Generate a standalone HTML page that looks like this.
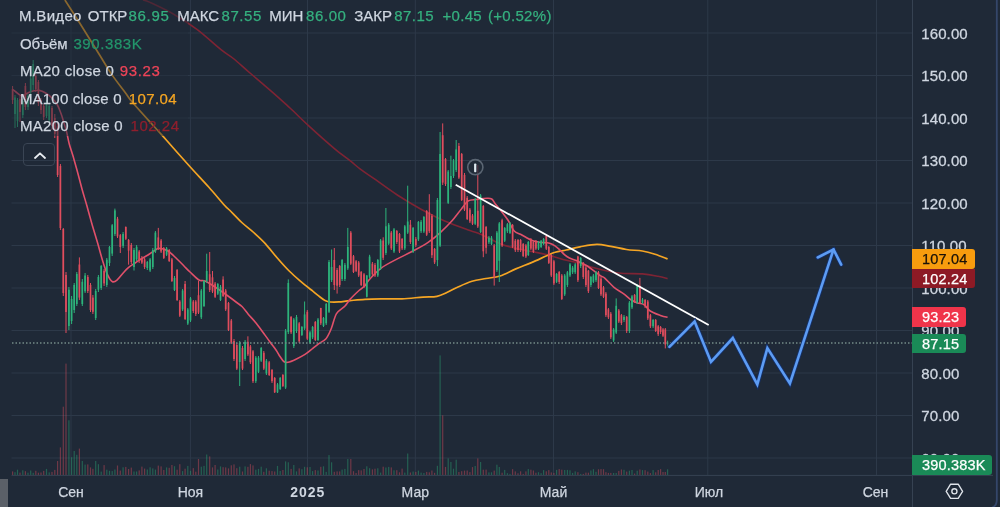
<!DOCTYPE html>
<html><head><meta charset="utf-8"><style>
html,body{margin:0;padding:0;}
span,div{-webkit-text-stroke:0.25px currentColor;}
body{filter:blur(0.35px);width:1000px;height:507px;overflow:hidden;position:relative;background:#1f2937;font-family:"Liberation Sans","Noto Sans CJK SC",sans-serif;}
.lg{position:absolute;font-size:15px;line-height:20px;white-space:nowrap;color:#cfd6e0;}
.gv{color:#35b07f;}
.pl{position:absolute;left:921.3px;font-size:15px;line-height:18px;color:#cfd6e0;letter-spacing:0.1px;-webkit-text-stroke:0.3px #cfd6e0;}
.tag{position:absolute;left:912px;width:54px;font-size:14.5px;line-height:20px;text-align:left;padding-left:10px;box-sizing:border-box;border-radius:0 3px 3px 0;letter-spacing:0.2px;}
.tl{position:absolute;top:483px;font-size:14px;line-height:18px;color:#cfd6e0;transform:translateX(-50%);}
.btn{position:absolute;left:23px;top:142.5px;width:32px;height:23px;box-sizing:border-box;border:1px solid #3a4554;border-radius:4px;}
</style></head><body>
<svg width="1000" height="507" viewBox="0 0 1000 507" style="position:absolute;left:0;top:0"><g stroke="#2d3949" stroke-width="1"><line x1="11.5" y1="33.0" x2="912" y2="33.0"/><line x1="11.5" y1="75.5" x2="912" y2="75.5"/><line x1="11.5" y1="118.0" x2="912" y2="118.0"/><line x1="11.5" y1="160.5" x2="912" y2="160.5"/><line x1="11.5" y1="203.0" x2="912" y2="203.0"/><line x1="11.5" y1="245.5" x2="912" y2="245.5"/><line x1="11.5" y1="288.0" x2="912" y2="288.0"/><line x1="11.5" y1="330.5" x2="912" y2="330.5"/><line x1="11.5" y1="373.0" x2="912" y2="373.0"/><line x1="11.5" y1="415.5" x2="912" y2="415.5"/><line x1="11.5" y1="458.0" x2="912" y2="458.0"/><line x1="71" y1="0" x2="71" y2="475"/><line x1="190.4" y1="0" x2="190.4" y2="475"/><line x1="307.5" y1="0" x2="307.5" y2="475"/><line x1="415.3" y1="0" x2="415.3" y2="475"/><line x1="553.5" y1="0" x2="553.5" y2="475"/><line x1="707.8" y1="0" x2="707.8" y2="475"/><line x1="876.5" y1="0" x2="876.5" y2="475"/></g><rect x="12.00" y="471.4" width="1.2" height="3.6" fill="rgba(229,80,95,0.4)"/><rect x="14.40" y="472.2" width="1.2" height="2.8" fill="rgba(45,179,123,0.4)"/><rect x="16.90" y="469.7" width="1.2" height="5.3" fill="rgba(45,179,123,0.4)"/><rect x="19.40" y="472.6" width="1.2" height="2.4" fill="rgba(229,80,95,0.4)"/><rect x="22.20" y="470.3" width="1.2" height="4.7" fill="rgba(45,179,123,0.4)"/><rect x="24.80" y="471.2" width="1.2" height="3.8" fill="rgba(229,80,95,0.4)"/><rect x="27.40" y="472.7" width="1.2" height="2.3" fill="rgba(45,179,123,0.4)"/><rect x="30.10" y="470.5" width="1.2" height="4.5" fill="rgba(45,179,123,0.4)"/><rect x="32.60" y="472.8" width="1.2" height="2.2" fill="rgba(45,179,123,0.4)"/><rect x="35.20" y="470.8" width="1.2" height="4.2" fill="rgba(229,80,95,0.4)"/><rect x="37.80" y="472.7" width="1.2" height="2.3" fill="rgba(229,80,95,0.4)"/><rect x="40.40" y="472.5" width="1.2" height="2.5" fill="rgba(229,80,95,0.4)"/><rect x="43.10" y="470.9" width="1.2" height="4.1" fill="rgba(229,80,95,0.4)"/><rect x="45.90" y="468.9" width="1.2" height="6.1" fill="rgba(45,179,123,0.4)"/><rect x="48.60" y="472.4" width="1.2" height="2.6" fill="rgba(45,179,123,0.4)"/><rect x="51.40" y="471.9" width="1.2" height="3.1" fill="rgba(229,80,95,0.4)"/><rect x="54.20" y="469.9" width="1.2" height="5.1" fill="rgba(229,80,95,0.4)"/><rect x="57.00" y="461.0" width="1.2" height="14.0" fill="rgba(229,80,95,0.4)"/><rect x="59.80" y="447.4" width="1.2" height="27.6" fill="rgba(229,80,95,0.4)"/><rect x="62.70" y="406.7" width="1.2" height="68.3" fill="rgba(229,80,95,0.4)"/><rect x="65.40" y="363.6" width="1.2" height="111.4" fill="rgba(229,80,95,0.4)"/><rect x="68.30" y="420.3" width="1.2" height="54.7" fill="rgba(45,179,123,0.4)"/><rect x="71.00" y="457.2" width="1.2" height="17.8" fill="rgba(45,179,123,0.4)"/><rect x="73.60" y="451.0" width="1.2" height="24.0" fill="rgba(45,179,123,0.4)"/><rect x="76.20" y="454.8" width="1.2" height="20.2" fill="rgba(45,179,123,0.4)"/><rect x="78.80" y="448.6" width="1.2" height="26.4" fill="rgba(229,80,95,0.4)"/><rect x="81.70" y="461.0" width="1.2" height="14.0" fill="rgba(45,179,123,0.4)"/><rect x="84.50" y="464.6" width="1.2" height="10.4" fill="rgba(45,179,123,0.4)"/><rect x="87.20" y="464.4" width="1.2" height="10.6" fill="rgba(229,80,95,0.4)"/><rect x="89.90" y="467.4" width="1.2" height="7.6" fill="rgba(229,80,95,0.4)"/><rect x="92.30" y="468.8" width="1.2" height="6.2" fill="rgba(229,80,95,0.4)"/><rect x="95.10" y="461.0" width="1.2" height="14.0" fill="rgba(45,179,123,0.4)"/><rect x="97.80" y="464.2" width="1.2" height="10.8" fill="rgba(45,179,123,0.4)"/><rect x="100.60" y="471.6" width="1.2" height="3.4" fill="rgba(45,179,123,0.4)"/><rect x="103.50" y="465.1" width="1.2" height="9.9" fill="rgba(229,80,95,0.4)"/><rect x="106.20" y="469.7" width="1.2" height="5.3" fill="rgba(45,179,123,0.4)"/><rect x="108.90" y="470.8" width="1.2" height="4.2" fill="rgba(45,179,123,0.4)"/><rect x="111.60" y="471.1" width="1.2" height="3.9" fill="rgba(45,179,123,0.4)"/><rect x="114.30" y="469.5" width="1.2" height="5.5" fill="rgba(45,179,123,0.4)"/><rect x="116.90" y="465.5" width="1.2" height="9.5" fill="rgba(229,80,95,0.4)"/><rect x="119.70" y="470.6" width="1.2" height="4.4" fill="rgba(229,80,95,0.4)"/><rect x="122.50" y="467.3" width="1.2" height="7.7" fill="rgba(45,179,123,0.4)"/><rect x="125.20" y="466.9" width="1.2" height="8.1" fill="rgba(229,80,95,0.4)"/><rect x="128.00" y="469.0" width="1.2" height="6.0" fill="rgba(229,80,95,0.4)"/><rect x="130.70" y="467.6" width="1.2" height="7.4" fill="rgba(229,80,95,0.4)"/><rect x="133.40" y="471.5" width="1.2" height="3.5" fill="rgba(45,179,123,0.4)"/><rect x="136.00" y="471.5" width="1.2" height="3.5" fill="rgba(45,179,123,0.4)"/><rect x="138.60" y="470.4" width="1.2" height="4.6" fill="rgba(229,80,95,0.4)"/><rect x="141.30" y="466.6" width="1.2" height="8.4" fill="rgba(229,80,95,0.4)"/><rect x="144.00" y="468.6" width="1.2" height="6.4" fill="rgba(229,80,95,0.4)"/><rect x="146.70" y="469.5" width="1.2" height="5.5" fill="rgba(45,179,123,0.4)"/><rect x="149.50" y="467.3" width="1.2" height="7.7" fill="rgba(45,179,123,0.4)"/><rect x="152.20" y="468.4" width="1.2" height="6.6" fill="rgba(45,179,123,0.4)"/><rect x="154.80" y="469.6" width="1.2" height="5.4" fill="rgba(45,179,123,0.4)"/><rect x="157.70" y="465.6" width="1.2" height="9.4" fill="rgba(229,80,95,0.4)"/><rect x="160.50" y="466.4" width="1.2" height="8.6" fill="rgba(229,80,95,0.4)"/><rect x="163.20" y="470.0" width="1.2" height="5.0" fill="rgba(229,80,95,0.4)"/><rect x="166.00" y="467.4" width="1.2" height="7.6" fill="rgba(45,179,123,0.4)"/><rect x="168.60" y="467.8" width="1.2" height="7.2" fill="rgba(229,80,95,0.4)"/><rect x="171.30" y="465.0" width="1.2" height="10.0" fill="rgba(229,80,95,0.4)"/><rect x="173.90" y="466.2" width="1.2" height="8.8" fill="rgba(45,179,123,0.4)"/><rect x="176.50" y="469.7" width="1.2" height="5.3" fill="rgba(229,80,95,0.4)"/><rect x="179.20" y="464.2" width="1.2" height="10.8" fill="rgba(229,80,95,0.4)"/><rect x="182.00" y="471.1" width="1.2" height="3.9" fill="rgba(45,179,123,0.4)"/><rect x="184.50" y="468.7" width="1.2" height="6.3" fill="rgba(229,80,95,0.4)"/><rect x="187.20" y="465.9" width="1.2" height="9.1" fill="rgba(45,179,123,0.4)"/><rect x="189.90" y="470.8" width="1.2" height="4.2" fill="rgba(45,179,123,0.4)"/><rect x="192.70" y="468.1" width="1.2" height="6.9" fill="rgba(229,80,95,0.4)"/><rect x="195.20" y="471.7" width="1.2" height="3.3" fill="rgba(229,80,95,0.4)"/><rect x="197.90" y="459.0" width="1.2" height="16.0" fill="rgba(229,80,95,0.4)"/><rect x="200.70" y="466.7" width="1.2" height="8.3" fill="rgba(45,179,123,0.4)"/><rect x="203.40" y="465.9" width="1.2" height="9.1" fill="rgba(45,179,123,0.4)"/><rect x="206.10" y="454.5" width="1.2" height="20.5" fill="rgba(45,179,123,0.4)"/><rect x="209.10" y="456.4" width="1.2" height="18.6" fill="rgba(229,80,95,0.4)"/><rect x="211.90" y="467.4" width="1.2" height="7.6" fill="rgba(229,80,95,0.4)"/><rect x="214.50" y="465.0" width="1.2" height="10.0" fill="rgba(229,80,95,0.4)"/><rect x="217.20" y="469.5" width="1.2" height="5.5" fill="rgba(45,179,123,0.4)"/><rect x="219.90" y="466.4" width="1.2" height="8.6" fill="rgba(45,179,123,0.4)"/><rect x="222.50" y="467.2" width="1.2" height="7.8" fill="rgba(229,80,95,0.4)"/><rect x="225.10" y="467.4" width="1.2" height="7.6" fill="rgba(229,80,95,0.4)"/><rect x="227.90" y="468.4" width="1.2" height="6.6" fill="rgba(229,80,95,0.4)"/><rect x="230.70" y="465.3" width="1.2" height="9.7" fill="rgba(229,80,95,0.4)"/><rect x="233.40" y="464.4" width="1.2" height="10.6" fill="rgba(229,80,95,0.4)"/><rect x="236.20" y="468.2" width="1.2" height="6.8" fill="rgba(229,80,95,0.4)"/><rect x="239.10" y="466.7" width="1.2" height="8.3" fill="rgba(45,179,123,0.4)"/><rect x="241.90" y="471.5" width="1.2" height="3.5" fill="rgba(229,80,95,0.4)"/><rect x="244.50" y="466.4" width="1.2" height="8.6" fill="rgba(45,179,123,0.4)"/><rect x="247.30" y="466.8" width="1.2" height="8.2" fill="rgba(229,80,95,0.4)"/><rect x="249.80" y="464.1" width="1.2" height="10.9" fill="rgba(229,80,95,0.4)"/><rect x="252.40" y="465.4" width="1.2" height="9.6" fill="rgba(229,80,95,0.4)"/><rect x="255.20" y="469.7" width="1.2" height="5.3" fill="rgba(45,179,123,0.4)"/><rect x="257.90" y="468.9" width="1.2" height="6.1" fill="rgba(45,179,123,0.4)"/><rect x="260.60" y="466.7" width="1.2" height="8.3" fill="rgba(45,179,123,0.4)"/><rect x="263.20" y="471.8" width="1.2" height="3.2" fill="rgba(229,80,95,0.4)"/><rect x="265.80" y="468.3" width="1.2" height="6.7" fill="rgba(45,179,123,0.4)"/><rect x="268.60" y="470.7" width="1.2" height="4.3" fill="rgba(229,80,95,0.4)"/><rect x="271.40" y="471.1" width="1.2" height="3.9" fill="rgba(229,80,95,0.4)"/><rect x="274.10" y="471.5" width="1.2" height="3.5" fill="rgba(229,80,95,0.4)"/><rect x="276.90" y="465.9" width="1.2" height="9.1" fill="rgba(45,179,123,0.4)"/><rect x="279.60" y="471.0" width="1.2" height="4.0" fill="rgba(45,179,123,0.4)"/><rect x="282.30" y="470.0" width="1.2" height="5.0" fill="rgba(229,80,95,0.4)"/><rect x="285.00" y="461.4" width="1.2" height="13.6" fill="rgba(45,179,123,0.4)"/><rect x="287.70" y="462.3" width="1.2" height="12.7" fill="rgba(45,179,123,0.4)"/><rect x="290.50" y="468.9" width="1.2" height="6.1" fill="rgba(229,80,95,0.4)"/><rect x="293.20" y="465.0" width="1.2" height="10.0" fill="rgba(45,179,123,0.4)"/><rect x="295.90" y="471.4" width="1.2" height="3.6" fill="rgba(45,179,123,0.4)"/><rect x="298.60" y="468.4" width="1.2" height="6.6" fill="rgba(229,80,95,0.4)"/><rect x="301.30" y="469.2" width="1.2" height="5.8" fill="rgba(45,179,123,0.4)"/><rect x="304.00" y="466.8" width="1.2" height="8.2" fill="rgba(45,179,123,0.4)"/><rect x="306.70" y="467.3" width="1.2" height="7.7" fill="rgba(229,80,95,0.4)"/><rect x="309.40" y="467.0" width="1.2" height="8.0" fill="rgba(45,179,123,0.4)"/><rect x="312.00" y="471.1" width="1.2" height="3.9" fill="rgba(45,179,123,0.4)"/><rect x="314.70" y="470.1" width="1.2" height="4.9" fill="rgba(229,80,95,0.4)"/><rect x="317.40" y="470.5" width="1.2" height="4.5" fill="rgba(45,179,123,0.4)"/><rect x="320.20" y="466.8" width="1.2" height="8.2" fill="rgba(229,80,95,0.4)"/><rect x="322.90" y="466.3" width="1.2" height="8.7" fill="rgba(45,179,123,0.4)"/><rect x="325.60" y="471.9" width="1.2" height="3.1" fill="rgba(45,179,123,0.4)"/><rect x="328.40" y="455.1" width="1.2" height="19.9" fill="rgba(45,179,123,0.4)"/><rect x="331.00" y="462.3" width="1.2" height="12.7" fill="rgba(45,179,123,0.4)"/><rect x="333.70" y="471.8" width="1.2" height="3.2" fill="rgba(229,80,95,0.4)"/><rect x="336.50" y="471.4" width="1.2" height="3.6" fill="rgba(229,80,95,0.4)"/><rect x="339.10" y="471.4" width="1.2" height="3.6" fill="rgba(229,80,95,0.4)"/><rect x="341.50" y="469.6" width="1.2" height="5.4" fill="rgba(45,179,123,0.4)"/><rect x="344.30" y="468.9" width="1.2" height="6.1" fill="rgba(45,179,123,0.4)"/><rect x="347.20" y="459.0" width="1.2" height="16.0" fill="rgba(45,179,123,0.4)"/><rect x="350.20" y="459.0" width="1.2" height="16.0" fill="rgba(229,80,95,0.4)"/><rect x="352.90" y="471.2" width="1.2" height="3.8" fill="rgba(229,80,95,0.4)"/><rect x="355.50" y="473.0" width="1.2" height="2.0" fill="rgba(229,80,95,0.4)"/><rect x="358.10" y="470.1" width="1.2" height="4.9" fill="rgba(229,80,95,0.4)"/><rect x="360.60" y="470.4" width="1.2" height="4.6" fill="rgba(229,80,95,0.4)"/><rect x="363.40" y="469.0" width="1.2" height="6.0" fill="rgba(229,80,95,0.4)"/><rect x="366.20" y="466.3" width="1.2" height="8.7" fill="rgba(45,179,123,0.4)"/><rect x="369.00" y="468.2" width="1.2" height="6.8" fill="rgba(45,179,123,0.4)"/><rect x="371.80" y="469.4" width="1.2" height="5.6" fill="rgba(229,80,95,0.4)"/><rect x="374.40" y="468.7" width="1.2" height="6.3" fill="rgba(229,80,95,0.4)"/><rect x="377.20" y="468.3" width="1.2" height="6.7" fill="rgba(45,179,123,0.4)"/><rect x="380.00" y="472.6" width="1.2" height="2.4" fill="rgba(45,179,123,0.4)"/><rect x="382.60" y="466.7" width="1.2" height="8.3" fill="rgba(229,80,95,0.4)"/><rect x="385.30" y="467.5" width="1.2" height="7.5" fill="rgba(45,179,123,0.4)"/><rect x="388.10" y="466.9" width="1.2" height="8.1" fill="rgba(45,179,123,0.4)"/><rect x="390.70" y="467.4" width="1.2" height="7.6" fill="rgba(229,80,95,0.4)"/><rect x="393.40" y="470.3" width="1.2" height="4.7" fill="rgba(45,179,123,0.4)"/><rect x="396.20" y="470.2" width="1.2" height="4.8" fill="rgba(229,80,95,0.4)"/><rect x="398.90" y="472.3" width="1.2" height="2.7" fill="rgba(229,80,95,0.4)"/><rect x="401.50" y="468.6" width="1.2" height="6.4" fill="rgba(229,80,95,0.4)"/><rect x="404.20" y="472.6" width="1.2" height="2.4" fill="rgba(45,179,123,0.4)"/><rect x="407.10" y="453.5" width="1.2" height="21.5" fill="rgba(45,179,123,0.4)"/><rect x="409.80" y="472.5" width="1.2" height="2.5" fill="rgba(229,80,95,0.4)"/><rect x="412.50" y="471.5" width="1.2" height="3.5" fill="rgba(45,179,123,0.4)"/><rect x="415.20" y="471.9" width="1.2" height="3.1" fill="rgba(229,80,95,0.4)"/><rect x="417.80" y="470.6" width="1.2" height="4.4" fill="rgba(45,179,123,0.4)"/><rect x="420.50" y="472.6" width="1.2" height="2.4" fill="rgba(45,179,123,0.4)"/><rect x="423.30" y="473.0" width="1.2" height="2.0" fill="rgba(45,179,123,0.4)"/><rect x="426.10" y="471.9" width="1.2" height="3.1" fill="rgba(229,80,95,0.4)"/><rect x="428.70" y="472.3" width="1.2" height="2.7" fill="rgba(229,80,95,0.4)"/><rect x="431.30" y="470.5" width="1.2" height="4.5" fill="rgba(229,80,95,0.4)"/><rect x="434.00" y="472.8" width="1.2" height="2.2" fill="rgba(229,80,95,0.4)"/><rect x="436.80" y="465.8" width="1.2" height="9.2" fill="rgba(45,179,123,0.4)"/><rect x="439.50" y="355.4" width="1.2" height="119.6" fill="rgba(45,179,123,0.4)"/><rect x="442.10" y="415.3" width="1.2" height="59.7" fill="rgba(229,80,95,0.4)"/><rect x="444.90" y="466.9" width="1.2" height="8.1" fill="rgba(229,80,95,0.4)"/><rect x="447.60" y="458.4" width="1.2" height="16.6" fill="rgba(45,179,123,0.4)"/><rect x="450.30" y="462.0" width="1.2" height="13.0" fill="rgba(45,179,123,0.4)"/><rect x="452.90" y="468.7" width="1.2" height="6.3" fill="rgba(45,179,123,0.4)"/><rect x="455.60" y="459.7" width="1.2" height="15.3" fill="rgba(45,179,123,0.4)"/><rect x="458.30" y="472.0" width="1.2" height="3.0" fill="rgba(229,80,95,0.4)"/><rect x="461.10" y="471.2" width="1.2" height="3.8" fill="rgba(229,80,95,0.4)"/><rect x="463.90" y="470.6" width="1.2" height="4.4" fill="rgba(229,80,95,0.4)"/><rect x="466.60" y="470.5" width="1.2" height="4.5" fill="rgba(229,80,95,0.4)"/><rect x="469.30" y="472.1" width="1.2" height="2.9" fill="rgba(229,80,95,0.4)"/><rect x="471.90" y="467.1" width="1.2" height="7.9" fill="rgba(229,80,95,0.4)"/><rect x="474.60" y="466.0" width="1.2" height="9.0" fill="rgba(45,179,123,0.4)"/><rect x="477.20" y="458.4" width="1.2" height="16.6" fill="rgba(229,80,95,0.4)"/><rect x="480.00" y="462.0" width="1.2" height="13.0" fill="rgba(45,179,123,0.4)"/><rect x="482.70" y="469.7" width="1.2" height="5.3" fill="rgba(229,80,95,0.4)"/><rect x="485.50" y="469.6" width="1.2" height="5.4" fill="rgba(229,80,95,0.4)"/><rect x="488.30" y="472.4" width="1.2" height="2.6" fill="rgba(45,179,123,0.4)"/><rect x="490.90" y="472.3" width="1.2" height="2.7" fill="rgba(45,179,123,0.4)"/><rect x="493.60" y="470.6" width="1.2" height="4.4" fill="rgba(229,80,95,0.4)"/><rect x="496.30" y="464.7" width="1.2" height="10.3" fill="rgba(45,179,123,0.4)"/><rect x="498.70" y="467.0" width="1.2" height="8.0" fill="rgba(45,179,123,0.4)"/><rect x="501.50" y="472.7" width="1.2" height="2.3" fill="rgba(229,80,95,0.4)"/><rect x="504.10" y="469.9" width="1.2" height="5.1" fill="rgba(45,179,123,0.4)"/><rect x="506.80" y="473.2" width="1.2" height="1.8" fill="rgba(45,179,123,0.4)"/><rect x="509.40" y="473.9" width="1.2" height="1.1" fill="rgba(45,179,123,0.4)"/><rect x="512.00" y="469.2" width="1.2" height="5.8" fill="rgba(229,80,95,0.4)"/><rect x="514.70" y="471.4" width="1.2" height="3.6" fill="rgba(229,80,95,0.4)"/><rect x="517.40" y="473.3" width="1.2" height="1.7" fill="rgba(229,80,95,0.4)"/><rect x="520.00" y="471.3" width="1.2" height="3.7" fill="rgba(229,80,95,0.4)"/><rect x="522.60" y="473.9" width="1.2" height="1.1" fill="rgba(229,80,95,0.4)"/><rect x="525.30" y="471.4" width="1.2" height="3.6" fill="rgba(229,80,95,0.4)"/><rect x="527.70" y="469.1" width="1.2" height="5.9" fill="rgba(45,179,123,0.4)"/><rect x="530.30" y="469.7" width="1.2" height="5.3" fill="rgba(229,80,95,0.4)"/><rect x="532.80" y="470.5" width="1.2" height="4.5" fill="rgba(229,80,95,0.4)"/><rect x="535.30" y="472.7" width="1.2" height="2.3" fill="rgba(229,80,95,0.4)"/><rect x="537.90" y="472.2" width="1.2" height="2.8" fill="rgba(45,179,123,0.4)"/><rect x="540.50" y="473.2" width="1.2" height="1.8" fill="rgba(45,179,123,0.4)"/><rect x="543.00" y="470.1" width="1.2" height="4.9" fill="rgba(45,179,123,0.4)"/><rect x="545.70" y="471.3" width="1.2" height="3.7" fill="rgba(229,80,95,0.4)"/><rect x="548.20" y="470.1" width="1.2" height="4.9" fill="rgba(229,80,95,0.4)"/><rect x="550.70" y="472.4" width="1.2" height="2.6" fill="rgba(229,80,95,0.4)"/><rect x="553.30" y="472.9" width="1.2" height="2.1" fill="rgba(229,80,95,0.4)"/><rect x="556.00" y="469.9" width="1.2" height="5.1" fill="rgba(45,179,123,0.4)"/><rect x="558.60" y="469.1" width="1.2" height="5.9" fill="rgba(229,80,95,0.4)"/><rect x="561.20" y="469.7" width="1.2" height="5.3" fill="rgba(229,80,95,0.4)"/><rect x="564.10" y="470.0" width="1.2" height="5.0" fill="rgba(45,179,123,0.4)"/><rect x="566.80" y="469.9" width="1.2" height="5.1" fill="rgba(45,179,123,0.4)"/><rect x="569.40" y="470.3" width="1.2" height="4.7" fill="rgba(45,179,123,0.4)"/><rect x="572.00" y="472.9" width="1.2" height="2.1" fill="rgba(45,179,123,0.4)"/><rect x="574.60" y="471.4" width="1.2" height="3.6" fill="rgba(45,179,123,0.4)"/><rect x="577.30" y="472.2" width="1.2" height="2.8" fill="rgba(229,80,95,0.4)"/><rect x="580.10" y="473.9" width="1.2" height="1.1" fill="rgba(45,179,123,0.4)"/><rect x="582.70" y="473.9" width="1.2" height="1.1" fill="rgba(229,80,95,0.4)"/><rect x="585.30" y="472.6" width="1.2" height="2.4" fill="rgba(229,80,95,0.4)"/><rect x="587.80" y="472.7" width="1.2" height="2.3" fill="rgba(229,80,95,0.4)"/><rect x="590.30" y="470.5" width="1.2" height="4.5" fill="rgba(45,179,123,0.4)"/><rect x="592.80" y="469.2" width="1.2" height="5.8" fill="rgba(45,179,123,0.4)"/><rect x="595.40" y="471.8" width="1.2" height="3.2" fill="rgba(45,179,123,0.4)"/><rect x="597.90" y="469.3" width="1.2" height="5.7" fill="rgba(229,80,95,0.4)"/><rect x="600.40" y="469.1" width="1.2" height="5.9" fill="rgba(229,80,95,0.4)"/><rect x="602.90" y="469.2" width="1.2" height="5.8" fill="rgba(229,80,95,0.4)"/><rect x="605.30" y="472.2" width="1.2" height="2.8" fill="rgba(229,80,95,0.4)"/><rect x="607.80" y="472.9" width="1.2" height="2.1" fill="rgba(229,80,95,0.4)"/><rect x="610.20" y="472.9" width="1.2" height="2.1" fill="rgba(229,80,95,0.4)"/><rect x="613.00" y="473.0" width="1.2" height="2.0" fill="rgba(45,179,123,0.4)"/><rect x="615.60" y="473.0" width="1.2" height="2.0" fill="rgba(45,179,123,0.4)"/><rect x="618.20" y="470.9" width="1.2" height="4.1" fill="rgba(229,80,95,0.4)"/><rect x="620.80" y="469.5" width="1.2" height="5.5" fill="rgba(229,80,95,0.4)"/><rect x="623.40" y="469.8" width="1.2" height="5.2" fill="rgba(45,179,123,0.4)"/><rect x="626.10" y="471.6" width="1.2" height="3.4" fill="rgba(229,80,95,0.4)"/><rect x="628.80" y="470.7" width="1.2" height="4.3" fill="rgba(45,179,123,0.4)"/><rect x="631.40" y="470.0" width="1.2" height="5.0" fill="rgba(45,179,123,0.4)"/><rect x="634.00" y="473.6" width="1.2" height="1.4" fill="rgba(229,80,95,0.4)"/><rect x="636.60" y="470.7" width="1.2" height="4.3" fill="rgba(45,179,123,0.4)"/><rect x="639.30" y="469.5" width="1.2" height="5.5" fill="rgba(229,80,95,0.4)"/><rect x="641.90" y="470.1" width="1.2" height="4.9" fill="rgba(45,179,123,0.4)"/><rect x="644.50" y="470.2" width="1.2" height="4.8" fill="rgba(229,80,95,0.4)"/><rect x="647.20" y="471.6" width="1.2" height="3.4" fill="rgba(229,80,95,0.4)"/><rect x="649.80" y="473.1" width="1.2" height="1.9" fill="rgba(229,80,95,0.4)"/><rect x="652.50" y="470.1" width="1.2" height="4.9" fill="rgba(45,179,123,0.4)"/><rect x="655.10" y="472.3" width="1.2" height="2.7" fill="rgba(229,80,95,0.4)"/><rect x="657.60" y="470.0" width="1.2" height="5.0" fill="rgba(229,80,95,0.4)"/><rect x="660.00" y="469.1" width="1.2" height="5.9" fill="rgba(229,80,95,0.4)"/><rect x="662.40" y="472.0" width="1.2" height="3.0" fill="rgba(229,80,95,0.4)"/><rect x="664.70" y="472.0" width="1.2" height="3.0" fill="rgba(229,80,95,0.4)"/><rect x="667.00" y="469.3" width="1.2" height="5.7" fill="rgba(45,179,123,0.4)"/><path d="M143.0,0.0 C144.2,0.4 144.9,0.0 150.0,2.4 C155.1,4.8 165.8,9.7 173.7,14.2 C181.6,18.7 189.4,23.7 197.3,29.6 C205.2,35.5 214.9,44.8 221.0,49.7 C227.1,54.6 229.2,55.1 234.0,59.0 C238.8,62.9 243.6,67.5 250.0,73.0 C256.4,78.5 265.9,86.5 272.6,92.3 C279.3,98.1 284.0,102.5 290.0,108.0 C296.0,113.5 301.1,118.8 308.5,125.6 C315.9,132.4 327.8,143.0 334.7,148.8 C341.6,154.7 345.8,157.3 350.0,160.7 C354.2,164.0 356.1,165.9 360.0,168.9 C363.9,171.9 367.5,174.1 373.7,178.4 C379.9,182.8 389.4,189.9 397.3,195.0 C405.2,200.1 413.1,204.9 421.0,209.2 C428.9,213.5 436.5,217.4 444.7,221.0 C452.9,224.6 463.9,228.3 470.0,230.5 C476.1,232.7 476.2,232.2 481.2,234.4 C486.2,236.6 494.2,241.4 500.0,243.7 C505.8,246.0 510.5,247.1 515.8,248.4 C521.0,249.7 526.2,250.4 531.5,251.5 C536.8,252.6 542.0,253.4 547.3,254.7 C552.5,256.0 557.5,257.9 563.0,259.4 C568.5,260.8 574.7,262.0 580.0,263.4 C585.3,264.8 588.5,266.4 595.0,268.0 C601.5,269.6 610.8,272.0 618.7,273.0 C626.6,274.0 635.8,273.3 642.3,273.9 C648.8,274.4 653.8,275.5 658.0,276.3 C662.2,277.1 666.0,278.2 667.6,278.6" fill="none" stroke="#7e2434" stroke-width="1.6"/><path d="M64.9,0.0 C67.4,3.9 74.3,14.5 80.0,23.5 C85.7,32.5 93.8,45.7 99.0,54.0 C104.2,62.3 106.7,67.0 111.0,73.4 C115.3,79.8 121.3,87.4 125.0,92.3 C128.7,97.2 128.2,97.4 133.0,103.0 C137.8,108.6 148.1,119.8 153.7,126.0 C159.2,132.2 162.4,135.6 166.3,140.0 C170.2,144.4 172.9,147.5 177.3,152.5 C181.8,157.5 187.7,164.2 193.0,170.0 C198.3,175.8 203.6,181.4 208.9,187.3 C214.2,193.2 221.2,201.6 224.7,205.5 C228.2,209.4 227.2,207.7 230.0,210.5 C232.8,213.3 237.9,218.8 241.8,222.5 C245.8,226.2 249.8,228.9 253.7,232.5 C257.6,236.1 261.6,239.6 265.5,243.8 C269.4,248.1 273.4,253.5 277.3,258.0 C281.2,262.5 285.2,267.1 289.2,271.0 C293.1,274.9 297.1,278.3 301.0,281.7 C304.9,285.1 309.6,288.6 312.8,291.1 C316.0,293.7 318.0,295.4 320.0,297.0 C322.0,298.6 323.3,299.6 325.0,300.4 C326.7,301.2 327.7,301.6 330.0,301.9 C332.3,302.1 335.6,302.1 338.9,301.9 C342.2,301.7 345.6,301.0 350.0,300.6 C354.4,300.2 359.8,299.6 365.0,299.3 C370.2,299.0 374.8,298.9 381.0,298.8 C387.2,298.7 395.0,299.1 402.0,298.8 C409.0,298.5 417.2,297.5 423.0,297.1 C428.8,296.7 433.0,297.1 437.0,296.3 C441.0,295.5 443.3,294.1 446.8,292.5 C450.3,290.9 453.8,288.9 458.0,287.0 C462.2,285.1 467.3,282.7 472.0,281.3 C476.7,279.9 481.3,279.4 486.0,278.5 C490.7,277.6 495.0,277.6 500.0,276.0 C505.0,274.4 510.5,271.1 515.8,268.9 C521.0,266.7 526.2,264.8 531.5,262.6 C536.8,260.4 543.3,257.2 547.3,255.5 C551.2,253.8 552.1,253.2 555.2,252.3 C558.4,251.4 562.1,250.9 566.2,250.0 C570.3,249.1 574.9,247.7 580.0,246.8 C585.1,245.9 591.7,244.5 596.8,244.4 C601.9,244.3 605.8,245.5 610.8,246.3 C615.8,247.2 621.2,248.7 626.5,249.5 C631.8,250.3 637.5,250.2 642.3,251.0 C647.0,251.8 650.8,252.9 655.0,254.2 C659.2,255.5 665.5,258.2 667.6,259.0" fill="none" stroke="#f5a524" stroke-width="1.7"/><path d="M12.3,89.4 C12.9,89.8 14.8,91.1 16.0,92.0 C17.2,92.9 18.6,94.4 19.8,95.0 C21.1,95.6 22.2,95.8 23.5,95.5 C24.8,95.2 26.1,93.8 27.7,93.0 C29.2,92.2 30.9,91.4 32.8,91.0 C34.7,90.6 37.1,90.1 39.2,90.4 C41.3,90.7 43.5,91.7 45.6,93.0 C47.7,94.3 50.1,96.1 52.0,98.0 C53.9,99.9 55.7,101.9 57.2,104.5 C58.7,107.1 59.8,110.3 61.0,113.5 C62.2,116.7 63.2,120.5 64.2,123.7 C65.2,126.9 66.0,129.4 66.8,132.7 C67.6,136.0 68.2,139.8 69.2,143.7 C70.2,147.6 71.8,151.8 73.1,156.3 C74.4,160.8 75.6,165.1 77.1,170.5 C78.6,175.9 80.4,183.1 82.0,189.0 C83.6,194.9 85.3,200.1 86.9,205.8 C88.5,211.6 90.0,217.2 91.8,223.5 C93.6,229.8 95.9,237.1 97.7,243.3 C99.5,249.6 101.1,255.8 102.7,261.0 C104.3,266.2 106.0,271.4 107.6,274.8 C109.2,278.2 110.9,280.9 112.5,281.7 C114.1,282.5 115.6,281.2 117.4,279.7 C119.2,278.2 121.6,274.8 123.4,272.8 C125.2,270.8 126.2,269.5 128.1,267.9 C130.0,266.3 132.8,264.5 135.0,263.0 C137.2,261.5 138.8,260.3 141.0,259.0 C143.2,257.7 145.8,256.3 148.0,255.0 C150.2,253.7 152.2,252.1 154.0,251.0 C155.8,249.9 156.7,248.4 159.0,248.4 C161.3,248.4 165.0,249.2 168.0,251.0 C171.0,252.8 174.3,256.5 177.0,259.0 C179.7,261.5 181.8,263.8 184.0,266.0 C186.2,268.2 187.5,269.7 190.0,272.0 C192.5,274.3 196.5,278.5 199.0,280.0 C201.5,281.5 202.3,279.8 205.0,281.0 C207.7,282.2 211.2,284.5 215.0,287.0 C218.8,289.5 224.5,293.5 228.0,296.0 C231.5,298.5 233.7,300.2 236.0,302.0 C238.3,303.8 239.9,304.4 242.0,306.5 C244.1,308.6 246.1,311.6 248.4,314.4 C250.7,317.1 253.4,319.7 256.0,323.0 C258.6,326.3 261.9,330.8 264.2,334.0 C266.5,337.2 268.0,339.3 270.0,342.0 C272.0,344.7 274.3,347.6 276.0,350.0 C277.7,352.4 278.7,354.6 280.0,356.5 C281.3,358.4 282.5,360.5 283.8,361.5 C285.1,362.5 286.0,362.7 288.0,362.3 C290.0,361.9 293.2,360.5 296.0,359.2 C298.8,357.9 302.3,356.1 305.0,354.4 C307.7,352.7 309.8,350.8 312.0,349.0 C314.2,347.2 316.2,345.5 318.5,343.8 C320.8,342.1 323.9,341.2 326.0,338.7 C328.1,336.1 329.6,332.7 331.3,328.5 C333.1,324.3 334.2,317.4 336.5,313.6 C338.8,309.9 342.8,308.4 345.0,306.0 C347.2,303.6 347.7,302.0 350.0,299.4 C352.3,296.8 356.5,292.8 359.0,290.5 C361.5,288.2 363.4,287.3 365.0,285.7 C366.6,284.1 365.8,283.5 368.4,280.6 C371.0,277.7 376.0,271.9 380.8,268.3 C385.6,264.7 392.2,261.6 397.3,258.9 C402.4,256.1 406.4,254.6 411.5,251.8 C416.6,249.0 423.4,245.5 428.1,242.3 C432.9,239.1 436.1,236.4 440.0,232.8 C443.9,229.2 448.3,224.9 451.8,221.0 C455.3,217.1 458.4,212.5 461.2,209.2 C463.9,205.8 465.8,202.5 468.3,200.9 C470.8,199.3 473.2,199.9 476.3,199.5 C479.4,199.1 484.4,198.4 487.0,198.3 C489.6,198.2 490.3,198.1 491.7,199.0 C493.1,199.9 493.8,201.9 495.2,203.7 C496.6,205.5 497.9,206.9 500.0,209.6 C502.1,212.3 505.5,216.4 507.9,220.0 C510.3,223.6 512.1,228.6 514.2,231.0 C516.3,233.4 518.5,233.2 520.5,234.3 C522.5,235.4 523.9,236.2 525.9,237.3 C527.9,238.4 530.5,239.9 532.8,240.7 C535.1,241.5 537.6,241.9 539.7,242.2 C541.9,242.5 544.1,242.5 545.7,242.7 C547.4,242.9 548.1,242.7 549.6,243.2 C551.1,243.7 553.0,244.6 554.6,245.7 C556.2,246.8 557.9,248.1 559.5,249.6 C561.1,251.1 562.8,253.2 564.4,254.6 C566.0,256.0 567.4,257.0 569.4,258.0 C571.4,259.0 573.3,259.2 576.3,260.5 C579.3,261.8 583.3,263.5 587.3,266.0 C591.2,268.5 597.1,273.5 600.0,275.5 C602.9,277.5 602.2,275.9 604.5,277.9 C606.8,279.9 610.9,284.7 614.0,287.3 C617.1,289.9 620.5,291.5 623.4,293.6 C626.3,295.7 628.9,298.4 631.3,300.0 C633.7,301.6 635.5,302.2 637.6,303.0 C639.7,303.8 641.8,303.2 643.9,304.5 C646.0,305.8 647.3,309.1 650.2,311.0 C653.1,312.9 658.3,314.6 661.2,315.7 C664.1,316.8 666.5,317.0 667.6,317.3" fill="none" stroke="#e0506a" stroke-width="1.6"/><line x1="12.60" y1="86.0" x2="12.60" y2="104.0" stroke="#e04d5d" stroke-width="1"/><rect x="11.75" y="89.0" width="1.7" height="11.0" fill="#e04d5d"/><line x1="15.00" y1="95.0" x2="15.00" y2="128.0" stroke="#2db37b" stroke-width="1"/><rect x="14.15" y="97.5" width="1.7" height="16.5" fill="#2db37b"/><line x1="17.50" y1="98.0" x2="17.50" y2="127.0" stroke="#2db37b" stroke-width="1"/><rect x="16.65" y="100.0" width="1.7" height="21.0" fill="#2db37b"/><line x1="20.00" y1="96.0" x2="20.00" y2="122.0" stroke="#e04d5d" stroke-width="1"/><rect x="19.15" y="99.0" width="1.7" height="13.0" fill="#e04d5d"/><line x1="22.80" y1="99.0" x2="22.80" y2="118.0" stroke="#2db37b" stroke-width="1"/><rect x="21.95" y="101.0" width="1.7" height="14.0" fill="#2db37b"/><line x1="25.40" y1="83.0" x2="25.40" y2="110.0" stroke="#e04d5d" stroke-width="1"/><rect x="24.55" y="86.0" width="1.7" height="21.0" fill="#e04d5d"/><line x1="28.00" y1="94.0" x2="28.00" y2="110.0" stroke="#2db37b" stroke-width="1"/><rect x="27.15" y="96.0" width="1.7" height="11.0" fill="#2db37b"/><line x1="30.70" y1="72.0" x2="30.70" y2="95.0" stroke="#2db37b" stroke-width="1"/><rect x="29.85" y="78.5" width="1.7" height="13.1" fill="#2db37b"/><line x1="33.20" y1="60.0" x2="33.20" y2="90.0" stroke="#2db37b" stroke-width="1"/><rect x="32.35" y="64.0" width="1.7" height="21.0" fill="#2db37b"/><line x1="35.80" y1="74.0" x2="35.80" y2="92.0" stroke="#e04d5d" stroke-width="1"/><rect x="34.95" y="76.0" width="1.7" height="13.0" fill="#e04d5d"/><line x1="38.40" y1="80.0" x2="38.40" y2="106.0" stroke="#e04d5d" stroke-width="1"/><rect x="37.55" y="82.0" width="1.7" height="21.0" fill="#e04d5d"/><line x1="41.00" y1="98.0" x2="41.00" y2="114.0" stroke="#e04d5d" stroke-width="1"/><rect x="40.15" y="100.0" width="1.7" height="10.0" fill="#e04d5d"/><line x1="43.70" y1="104.0" x2="43.70" y2="120.0" stroke="#e04d5d" stroke-width="1"/><rect x="42.85" y="106.0" width="1.7" height="11.0" fill="#e04d5d"/><line x1="46.50" y1="100.0" x2="46.50" y2="118.0" stroke="#2db37b" stroke-width="1"/><rect x="45.65" y="102.0" width="1.7" height="14.0" fill="#2db37b"/><line x1="49.20" y1="104.0" x2="49.20" y2="123.0" stroke="#2db37b" stroke-width="1"/><rect x="48.35" y="106.0" width="1.7" height="14.0" fill="#2db37b"/><line x1="52.00" y1="106.0" x2="52.00" y2="130.0" stroke="#e04d5d" stroke-width="1"/><rect x="51.15" y="108.0" width="1.7" height="18.0" fill="#e04d5d"/><line x1="54.80" y1="114.0" x2="54.80" y2="138.0" stroke="#e04d5d" stroke-width="1"/><rect x="53.95" y="118.0" width="1.7" height="16.0" fill="#e04d5d"/><line x1="57.60" y1="122.0" x2="57.60" y2="177.0" stroke="#e04d5d" stroke-width="1"/><rect x="56.75" y="126.0" width="1.7" height="49.0" fill="#e04d5d"/><line x1="60.40" y1="164.0" x2="60.40" y2="230.0" stroke="#e04d5d" stroke-width="1"/><rect x="59.55" y="166.0" width="1.7" height="62.0" fill="#e04d5d"/><line x1="63.30" y1="228.0" x2="63.30" y2="296.0" stroke="#e04d5d" stroke-width="1"/><rect x="62.45" y="229.0" width="1.7" height="64.0" fill="#e04d5d"/><line x1="66.00" y1="272.0" x2="66.00" y2="333.0" stroke="#e04d5d" stroke-width="1"/><rect x="65.15" y="275.0" width="1.7" height="37.0" fill="#e04d5d"/><line x1="68.90" y1="287.0" x2="68.90" y2="330.0" stroke="#2db37b" stroke-width="1"/><rect x="68.05" y="289.7" width="1.7" height="36.3" fill="#2db37b"/><line x1="71.60" y1="296.0" x2="71.60" y2="324.0" stroke="#2db37b" stroke-width="1"/><rect x="70.75" y="299.0" width="1.7" height="22.0" fill="#2db37b"/><line x1="74.20" y1="283.0" x2="74.20" y2="313.0" stroke="#2db37b" stroke-width="1"/><rect x="73.35" y="285.0" width="1.7" height="25.0" fill="#2db37b"/><line x1="76.80" y1="272.0" x2="76.80" y2="306.0" stroke="#2db37b" stroke-width="1"/><rect x="75.95" y="274.0" width="1.7" height="30.0" fill="#2db37b"/><line x1="79.40" y1="257.4" x2="79.40" y2="300.0" stroke="#e04d5d" stroke-width="1"/><rect x="78.55" y="264.5" width="1.7" height="33.1" fill="#e04d5d"/><line x1="82.30" y1="279.0" x2="82.30" y2="306.0" stroke="#2db37b" stroke-width="1"/><rect x="81.45" y="281.8" width="1.7" height="22.2" fill="#2db37b"/><line x1="85.10" y1="273.0" x2="85.10" y2="293.0" stroke="#2db37b" stroke-width="1"/><rect x="84.25" y="275.5" width="1.7" height="15.8" fill="#2db37b"/><line x1="87.80" y1="275.0" x2="87.80" y2="293.0" stroke="#e04d5d" stroke-width="1"/><rect x="86.95" y="277.0" width="1.7" height="14.0" fill="#e04d5d"/><line x1="90.50" y1="283.0" x2="90.50" y2="312.0" stroke="#e04d5d" stroke-width="1"/><rect x="89.65" y="285.0" width="1.7" height="25.0" fill="#e04d5d"/><line x1="92.90" y1="295.0" x2="92.90" y2="314.0" stroke="#e04d5d" stroke-width="1"/><rect x="92.05" y="297.6" width="1.7" height="14.2" fill="#e04d5d"/><line x1="95.70" y1="289.0" x2="95.70" y2="320.0" stroke="#2db37b" stroke-width="1"/><rect x="94.85" y="291.0" width="1.7" height="27.0" fill="#2db37b"/><line x1="98.40" y1="275.0" x2="98.40" y2="292.0" stroke="#2db37b" stroke-width="1"/><rect x="97.55" y="277.0" width="1.7" height="12.7" fill="#2db37b"/><line x1="101.20" y1="265.0" x2="101.20" y2="290.0" stroke="#2db37b" stroke-width="1"/><rect x="100.35" y="266.0" width="1.7" height="22.0" fill="#2db37b"/><line x1="104.10" y1="269.0" x2="104.10" y2="286.0" stroke="#e04d5d" stroke-width="1"/><rect x="103.25" y="270.8" width="1.7" height="12.6" fill="#e04d5d"/><line x1="106.80" y1="258.0" x2="106.80" y2="287.0" stroke="#2db37b" stroke-width="1"/><rect x="105.95" y="259.7" width="1.7" height="25.3" fill="#2db37b"/><line x1="109.50" y1="246.0" x2="109.50" y2="266.0" stroke="#2db37b" stroke-width="1"/><rect x="108.65" y="247.0" width="1.7" height="16.0" fill="#2db37b"/><line x1="112.20" y1="224.0" x2="112.20" y2="256.0" stroke="#2db37b" stroke-width="1"/><rect x="111.35" y="225.2" width="1.7" height="28.4" fill="#2db37b"/><line x1="114.90" y1="208.6" x2="114.90" y2="236.0" stroke="#2db37b" stroke-width="1"/><rect x="114.05" y="210.4" width="1.7" height="23.6" fill="#2db37b"/><line x1="117.50" y1="216.9" x2="117.50" y2="238.0" stroke="#e04d5d" stroke-width="1"/><rect x="116.65" y="218.7" width="1.7" height="17.7" fill="#e04d5d"/><line x1="120.30" y1="234.0" x2="120.30" y2="253.0" stroke="#e04d5d" stroke-width="1"/><rect x="119.45" y="235.2" width="1.7" height="11.8" fill="#e04d5d"/><line x1="123.10" y1="232.0" x2="123.10" y2="248.0" stroke="#2db37b" stroke-width="1"/><rect x="122.25" y="234.0" width="1.7" height="11.9" fill="#2db37b"/><line x1="125.80" y1="226.4" x2="125.80" y2="240.0" stroke="#e04d5d" stroke-width="1"/><rect x="124.95" y="227.0" width="1.7" height="11.8" fill="#e04d5d"/><line x1="128.60" y1="239.0" x2="128.60" y2="264.7" stroke="#e04d5d" stroke-width="1"/><rect x="127.75" y="240.0" width="1.7" height="10.6" fill="#e04d5d"/><line x1="131.30" y1="243.0" x2="131.30" y2="264.0" stroke="#e04d5d" stroke-width="1"/><rect x="130.45" y="245.0" width="1.7" height="17.0" fill="#e04d5d"/><line x1="134.00" y1="248.0" x2="134.00" y2="270.5" stroke="#2db37b" stroke-width="1"/><rect x="133.15" y="250.0" width="1.7" height="17.0" fill="#2db37b"/><line x1="136.60" y1="245.0" x2="136.60" y2="261.0" stroke="#2db37b" stroke-width="1"/><rect x="135.75" y="246.8" width="1.7" height="12.6" fill="#2db37b"/><line x1="139.20" y1="250.0" x2="139.20" y2="263.0" stroke="#e04d5d" stroke-width="1"/><rect x="138.35" y="251.5" width="1.7" height="9.5" fill="#e04d5d"/><line x1="141.90" y1="256.0" x2="141.90" y2="264.0" stroke="#e04d5d" stroke-width="1"/><rect x="141.05" y="257.9" width="1.7" height="4.7" fill="#e04d5d"/><line x1="144.60" y1="258.0" x2="144.60" y2="269.0" stroke="#e04d5d" stroke-width="1"/><rect x="143.75" y="259.4" width="1.7" height="7.6" fill="#e04d5d"/><line x1="147.30" y1="261.0" x2="147.30" y2="270.0" stroke="#2db37b" stroke-width="1"/><rect x="146.45" y="262.0" width="1.7" height="6.0" fill="#2db37b"/><line x1="150.10" y1="258.0" x2="150.10" y2="272.0" stroke="#2db37b" stroke-width="1"/><rect x="149.25" y="259.4" width="1.7" height="11.1" fill="#2db37b"/><line x1="152.80" y1="248.0" x2="152.80" y2="269.0" stroke="#2db37b" stroke-width="1"/><rect x="151.95" y="250.0" width="1.7" height="17.0" fill="#2db37b"/><line x1="155.40" y1="231.0" x2="155.40" y2="253.0" stroke="#2db37b" stroke-width="1"/><rect x="154.55" y="232.6" width="1.7" height="18.9" fill="#2db37b"/><line x1="158.30" y1="227.9" x2="158.30" y2="250.0" stroke="#e04d5d" stroke-width="1"/><rect x="157.45" y="237.4" width="1.7" height="11.0" fill="#e04d5d"/><line x1="161.10" y1="239.0" x2="161.10" y2="253.0" stroke="#e04d5d" stroke-width="1"/><rect x="160.25" y="240.5" width="1.7" height="11.0" fill="#e04d5d"/><line x1="163.80" y1="247.0" x2="163.80" y2="259.0" stroke="#e04d5d" stroke-width="1"/><rect x="162.95" y="248.4" width="1.7" height="9.5" fill="#e04d5d"/><line x1="166.60" y1="247.0" x2="166.60" y2="256.0" stroke="#2db37b" stroke-width="1"/><rect x="165.75" y="248.4" width="1.7" height="6.3" fill="#2db37b"/><line x1="169.20" y1="249.0" x2="169.20" y2="262.0" stroke="#e04d5d" stroke-width="1"/><rect x="168.35" y="250.0" width="1.7" height="11.0" fill="#e04d5d"/><line x1="171.90" y1="258.0" x2="171.90" y2="282.0" stroke="#e04d5d" stroke-width="1"/><rect x="171.05" y="259.4" width="1.7" height="21.6" fill="#e04d5d"/><line x1="174.50" y1="276.0" x2="174.50" y2="291.0" stroke="#2db37b" stroke-width="1"/><rect x="173.65" y="278.0" width="1.7" height="12.0" fill="#2db37b"/><line x1="177.10" y1="269.0" x2="177.10" y2="301.0" stroke="#e04d5d" stroke-width="1"/><rect x="176.25" y="270.0" width="1.7" height="30.0" fill="#e04d5d"/><line x1="179.80" y1="300.0" x2="179.80" y2="317.0" stroke="#e04d5d" stroke-width="1"/><rect x="178.95" y="301.5" width="1.7" height="14.2" fill="#e04d5d"/><line x1="182.60" y1="289.0" x2="182.60" y2="311.0" stroke="#2db37b" stroke-width="1"/><rect x="181.75" y="290.5" width="1.7" height="18.9" fill="#2db37b"/><line x1="185.10" y1="281.0" x2="185.10" y2="320.0" stroke="#e04d5d" stroke-width="1"/><rect x="184.25" y="284.0" width="1.7" height="35.0" fill="#e04d5d"/><line x1="187.80" y1="308.0" x2="187.80" y2="325.0" stroke="#2db37b" stroke-width="1"/><rect x="186.95" y="309.4" width="1.7" height="14.2" fill="#2db37b"/><line x1="190.50" y1="297.0" x2="190.50" y2="322.0" stroke="#2db37b" stroke-width="1"/><rect x="189.65" y="298.4" width="1.7" height="22.1" fill="#2db37b"/><line x1="193.30" y1="300.0" x2="193.30" y2="313.0" stroke="#e04d5d" stroke-width="1"/><rect x="192.45" y="301.5" width="1.7" height="9.5" fill="#e04d5d"/><line x1="195.80" y1="300.0" x2="195.80" y2="316.0" stroke="#e04d5d" stroke-width="1"/><rect x="194.95" y="301.5" width="1.7" height="12.5" fill="#e04d5d"/><line x1="198.50" y1="281.0" x2="198.50" y2="314.0" stroke="#e04d5d" stroke-width="1"/><rect x="197.65" y="295.2" width="1.7" height="17.4" fill="#e04d5d"/><line x1="201.30" y1="289.0" x2="201.30" y2="319.0" stroke="#2db37b" stroke-width="1"/><rect x="200.45" y="290.5" width="1.7" height="26.8" fill="#2db37b"/><line x1="204.00" y1="280.0" x2="204.00" y2="307.0" stroke="#2db37b" stroke-width="1"/><rect x="203.15" y="281.0" width="1.7" height="25.0" fill="#2db37b"/><line x1="206.70" y1="253.7" x2="206.70" y2="283.0" stroke="#2db37b" stroke-width="1"/><rect x="205.85" y="271.0" width="1.7" height="10.0" fill="#2db37b"/><line x1="209.70" y1="252.0" x2="209.70" y2="292.0" stroke="#e04d5d" stroke-width="1"/><rect x="208.85" y="274.2" width="1.7" height="15.8" fill="#e04d5d"/><line x1="212.50" y1="271.0" x2="212.50" y2="293.0" stroke="#e04d5d" stroke-width="1"/><rect x="211.65" y="277.3" width="1.7" height="14.2" fill="#e04d5d"/><line x1="215.10" y1="282.0" x2="215.10" y2="298.0" stroke="#e04d5d" stroke-width="1"/><rect x="214.25" y="283.6" width="1.7" height="13.2" fill="#e04d5d"/><line x1="217.80" y1="283.0" x2="217.80" y2="295.0" stroke="#2db37b" stroke-width="1"/><rect x="216.95" y="284.0" width="1.7" height="9.7" fill="#2db37b"/><line x1="220.50" y1="285.0" x2="220.50" y2="301.0" stroke="#2db37b" stroke-width="1"/><rect x="219.65" y="286.8" width="1.7" height="13.2" fill="#2db37b"/><line x1="223.10" y1="276.3" x2="223.10" y2="297.0" stroke="#e04d5d" stroke-width="1"/><rect x="222.25" y="279.5" width="1.7" height="16.5" fill="#e04d5d"/><line x1="225.70" y1="289.0" x2="225.70" y2="311.0" stroke="#e04d5d" stroke-width="1"/><rect x="224.85" y="290.5" width="1.7" height="18.9" fill="#e04d5d"/><line x1="228.50" y1="302.0" x2="228.50" y2="331.0" stroke="#e04d5d" stroke-width="1"/><rect x="227.65" y="303.0" width="1.7" height="27.0" fill="#e04d5d"/><line x1="231.30" y1="319.0" x2="231.30" y2="344.0" stroke="#e04d5d" stroke-width="1"/><rect x="230.45" y="320.5" width="1.7" height="22.1" fill="#e04d5d"/><line x1="234.00" y1="339.0" x2="234.00" y2="361.0" stroke="#e04d5d" stroke-width="1"/><rect x="233.15" y="341.0" width="1.7" height="18.0" fill="#e04d5d"/><line x1="236.80" y1="343.0" x2="236.80" y2="370.0" stroke="#e04d5d" stroke-width="1"/><rect x="235.95" y="345.0" width="1.7" height="23.6" fill="#e04d5d"/><line x1="239.70" y1="341.0" x2="239.70" y2="386.0" stroke="#2db37b" stroke-width="1"/><rect x="238.85" y="343.0" width="1.7" height="19.0" fill="#2db37b"/><line x1="242.50" y1="346.0" x2="242.50" y2="370.0" stroke="#e04d5d" stroke-width="1"/><rect x="241.65" y="348.0" width="1.7" height="20.6" fill="#e04d5d"/><line x1="245.10" y1="340.0" x2="245.10" y2="361.0" stroke="#2db37b" stroke-width="1"/><rect x="244.25" y="341.8" width="1.7" height="17.2" fill="#2db37b"/><line x1="247.90" y1="336.3" x2="247.90" y2="356.0" stroke="#e04d5d" stroke-width="1"/><rect x="247.05" y="341.8" width="1.7" height="12.6" fill="#e04d5d"/><line x1="250.40" y1="345.0" x2="250.40" y2="364.0" stroke="#e04d5d" stroke-width="1"/><rect x="249.55" y="346.5" width="1.7" height="15.8" fill="#e04d5d"/><line x1="253.00" y1="350.0" x2="253.00" y2="383.0" stroke="#e04d5d" stroke-width="1"/><rect x="252.15" y="351.3" width="1.7" height="29.9" fill="#e04d5d"/><line x1="255.80" y1="356.0" x2="255.80" y2="383.0" stroke="#2db37b" stroke-width="1"/><rect x="254.95" y="357.6" width="1.7" height="23.6" fill="#2db37b"/><line x1="258.50" y1="356.0" x2="258.50" y2="373.0" stroke="#2db37b" stroke-width="1"/><rect x="257.65" y="357.6" width="1.7" height="14.2" fill="#2db37b"/><line x1="261.20" y1="347.0" x2="261.20" y2="362.0" stroke="#2db37b" stroke-width="1"/><rect x="260.35" y="348.0" width="1.7" height="12.7" fill="#2db37b"/><line x1="263.80" y1="351.0" x2="263.80" y2="370.0" stroke="#e04d5d" stroke-width="1"/><rect x="262.95" y="352.8" width="1.7" height="15.8" fill="#e04d5d"/><line x1="266.40" y1="359.0" x2="266.40" y2="375.0" stroke="#2db37b" stroke-width="1"/><rect x="265.55" y="360.7" width="1.7" height="12.7" fill="#2db37b"/><line x1="269.20" y1="361.0" x2="269.20" y2="376.0" stroke="#e04d5d" stroke-width="1"/><rect x="268.35" y="362.3" width="1.7" height="12.7" fill="#e04d5d"/><line x1="272.00" y1="369.0" x2="272.00" y2="383.0" stroke="#e04d5d" stroke-width="1"/><rect x="271.15" y="370.0" width="1.7" height="11.2" fill="#e04d5d"/><line x1="274.70" y1="377.0" x2="274.70" y2="393.0" stroke="#e04d5d" stroke-width="1"/><rect x="273.85" y="378.0" width="1.7" height="14.3" fill="#e04d5d"/><line x1="277.50" y1="383.0" x2="277.50" y2="393.0" stroke="#2db37b" stroke-width="1"/><rect x="276.65" y="384.4" width="1.7" height="7.9" fill="#2db37b"/><line x1="280.20" y1="377.0" x2="280.20" y2="390.0" stroke="#2db37b" stroke-width="1"/><rect x="279.35" y="378.0" width="1.7" height="11.0" fill="#2db37b"/><line x1="282.90" y1="374.0" x2="282.90" y2="387.0" stroke="#e04d5d" stroke-width="1"/><rect x="282.05" y="375.0" width="1.7" height="11.0" fill="#e04d5d"/><line x1="285.60" y1="329.0" x2="285.60" y2="389.0" stroke="#2db37b" stroke-width="1"/><rect x="284.75" y="330.8" width="1.7" height="56.8" fill="#2db37b"/><line x1="288.30" y1="279.4" x2="288.30" y2="334.0" stroke="#2db37b" stroke-width="1"/><rect x="287.45" y="283.0" width="1.7" height="49.0" fill="#2db37b"/><line x1="291.10" y1="316.0" x2="291.10" y2="334.0" stroke="#e04d5d" stroke-width="1"/><rect x="290.25" y="317.0" width="1.7" height="15.3" fill="#e04d5d"/><line x1="293.80" y1="318.0" x2="293.80" y2="348.0" stroke="#2db37b" stroke-width="1"/><rect x="292.95" y="319.5" width="1.7" height="26.5" fill="#2db37b"/><line x1="296.50" y1="315.0" x2="296.50" y2="333.0" stroke="#2db37b" stroke-width="1"/><rect x="295.65" y="317.0" width="1.7" height="14.0" fill="#2db37b"/><line x1="299.20" y1="322.0" x2="299.20" y2="343.0" stroke="#e04d5d" stroke-width="1"/><rect x="298.35" y="323.3" width="1.7" height="18.0" fill="#e04d5d"/><line x1="301.90" y1="326.0" x2="301.90" y2="336.0" stroke="#2db37b" stroke-width="1"/><rect x="301.05" y="327.0" width="1.7" height="8.0" fill="#2db37b"/><line x1="304.60" y1="301.5" x2="304.60" y2="330.0" stroke="#2db37b" stroke-width="1"/><rect x="303.75" y="314.4" width="1.7" height="14.1" fill="#2db37b"/><line x1="307.30" y1="310.0" x2="307.30" y2="340.0" stroke="#e04d5d" stroke-width="1"/><rect x="306.45" y="311.8" width="1.7" height="26.9" fill="#e04d5d"/><line x1="310.00" y1="331.0" x2="310.00" y2="344.0" stroke="#2db37b" stroke-width="1"/><rect x="309.15" y="332.3" width="1.7" height="10.3" fill="#2db37b"/><line x1="312.60" y1="326.0" x2="312.60" y2="339.0" stroke="#2db37b" stroke-width="1"/><rect x="311.75" y="327.0" width="1.7" height="10.4" fill="#2db37b"/><line x1="315.30" y1="321.0" x2="315.30" y2="341.0" stroke="#e04d5d" stroke-width="1"/><rect x="314.45" y="322.0" width="1.7" height="18.0" fill="#e04d5d"/><line x1="318.00" y1="318.0" x2="318.00" y2="341.0" stroke="#2db37b" stroke-width="1"/><rect x="317.15" y="319.5" width="1.7" height="20.5" fill="#2db37b"/><line x1="320.80" y1="307.8" x2="320.80" y2="325.0" stroke="#e04d5d" stroke-width="1"/><rect x="319.95" y="308.0" width="1.7" height="15.3" fill="#e04d5d"/><line x1="323.50" y1="317.0" x2="323.50" y2="327.0" stroke="#2db37b" stroke-width="1"/><rect x="322.65" y="318.0" width="1.7" height="8.0" fill="#2db37b"/><line x1="326.20" y1="303.0" x2="326.20" y2="325.0" stroke="#2db37b" stroke-width="1"/><rect x="325.35" y="304.0" width="1.7" height="19.3" fill="#2db37b"/><line x1="329.00" y1="260.0" x2="329.00" y2="313.0" stroke="#2db37b" stroke-width="1"/><rect x="328.15" y="262.0" width="1.7" height="49.8" fill="#2db37b"/><line x1="331.60" y1="249.5" x2="331.60" y2="282.0" stroke="#2db37b" stroke-width="1"/><rect x="330.75" y="267.0" width="1.7" height="13.0" fill="#2db37b"/><line x1="334.30" y1="248.0" x2="334.30" y2="290.0" stroke="#e04d5d" stroke-width="1"/><rect x="333.45" y="260.0" width="1.7" height="25.0" fill="#e04d5d"/><line x1="337.10" y1="268.0" x2="337.10" y2="293.6" stroke="#e04d5d" stroke-width="1"/><rect x="336.25" y="270.0" width="1.7" height="15.7" fill="#e04d5d"/><line x1="339.70" y1="265.0" x2="339.70" y2="287.0" stroke="#e04d5d" stroke-width="1"/><rect x="338.85" y="266.0" width="1.7" height="19.0" fill="#e04d5d"/><line x1="342.10" y1="259.0" x2="342.10" y2="281.0" stroke="#2db37b" stroke-width="1"/><rect x="341.25" y="260.0" width="1.7" height="19.0" fill="#2db37b"/><line x1="344.90" y1="263.0" x2="344.90" y2="281.0" stroke="#2db37b" stroke-width="1"/><rect x="344.05" y="264.9" width="1.7" height="14.1" fill="#2db37b"/><line x1="347.80" y1="227.9" x2="347.80" y2="270.0" stroke="#2db37b" stroke-width="1"/><rect x="346.95" y="247.0" width="1.7" height="21.4" fill="#2db37b"/><line x1="350.80" y1="231.0" x2="350.80" y2="265.0" stroke="#e04d5d" stroke-width="1"/><rect x="349.95" y="232.6" width="1.7" height="31.1" fill="#e04d5d"/><line x1="353.50" y1="255.0" x2="353.50" y2="273.0" stroke="#e04d5d" stroke-width="1"/><rect x="352.65" y="256.2" width="1.7" height="15.8" fill="#e04d5d"/><line x1="356.10" y1="260.0" x2="356.10" y2="272.0" stroke="#e04d5d" stroke-width="1"/><rect x="355.25" y="261.3" width="1.7" height="9.5" fill="#e04d5d"/><line x1="358.70" y1="261.0" x2="358.70" y2="277.0" stroke="#e04d5d" stroke-width="1"/><rect x="357.85" y="262.5" width="1.7" height="13.0" fill="#e04d5d"/><line x1="361.20" y1="271.0" x2="361.20" y2="286.0" stroke="#e04d5d" stroke-width="1"/><rect x="360.35" y="272.0" width="1.7" height="13.0" fill="#e04d5d"/><line x1="364.00" y1="273.0" x2="364.00" y2="288.0" stroke="#e04d5d" stroke-width="1"/><rect x="363.15" y="274.3" width="1.7" height="11.9" fill="#e04d5d"/><line x1="366.80" y1="275.0" x2="366.80" y2="297.4" stroke="#2db37b" stroke-width="1"/><rect x="365.95" y="275.5" width="1.7" height="21.3" fill="#2db37b"/><line x1="369.60" y1="254.8" x2="369.60" y2="278.0" stroke="#2db37b" stroke-width="1"/><rect x="368.75" y="256.6" width="1.7" height="20.1" fill="#2db37b"/><line x1="372.40" y1="262.0" x2="372.40" y2="276.0" stroke="#e04d5d" stroke-width="1"/><rect x="371.55" y="263.7" width="1.7" height="10.6" fill="#e04d5d"/><line x1="375.00" y1="263.0" x2="375.00" y2="277.0" stroke="#e04d5d" stroke-width="1"/><rect x="374.15" y="264.9" width="1.7" height="10.6" fill="#e04d5d"/><line x1="377.80" y1="259.0" x2="377.80" y2="277.0" stroke="#2db37b" stroke-width="1"/><rect x="376.95" y="260.0" width="1.7" height="15.5" fill="#2db37b"/><line x1="380.60" y1="239.0" x2="380.60" y2="270.0" stroke="#2db37b" stroke-width="1"/><rect x="379.75" y="240.5" width="1.7" height="27.9" fill="#2db37b"/><line x1="383.20" y1="237.3" x2="383.20" y2="260.0" stroke="#e04d5d" stroke-width="1"/><rect x="382.35" y="240.5" width="1.7" height="17.3" fill="#e04d5d"/><line x1="385.90" y1="208.0" x2="385.90" y2="255.0" stroke="#2db37b" stroke-width="1"/><rect x="385.05" y="226.3" width="1.7" height="26.7" fill="#2db37b"/><line x1="388.70" y1="223.0" x2="388.70" y2="245.0" stroke="#2db37b" stroke-width="1"/><rect x="387.85" y="224.7" width="1.7" height="18.9" fill="#2db37b"/><line x1="391.30" y1="231.0" x2="391.30" y2="250.0" stroke="#e04d5d" stroke-width="1"/><rect x="390.45" y="232.6" width="1.7" height="15.8" fill="#e04d5d"/><line x1="394.00" y1="228.0" x2="394.00" y2="253.0" stroke="#2db37b" stroke-width="1"/><rect x="393.15" y="229.4" width="1.7" height="22.1" fill="#2db37b"/><line x1="396.80" y1="230.0" x2="396.80" y2="244.0" stroke="#e04d5d" stroke-width="1"/><rect x="395.95" y="231.0" width="1.7" height="11.0" fill="#e04d5d"/><line x1="399.50" y1="233.0" x2="399.50" y2="253.0" stroke="#e04d5d" stroke-width="1"/><rect x="398.65" y="234.0" width="1.7" height="17.5" fill="#e04d5d"/><line x1="402.10" y1="238.0" x2="402.10" y2="250.0" stroke="#e04d5d" stroke-width="1"/><rect x="401.25" y="239.0" width="1.7" height="9.4" fill="#e04d5d"/><line x1="404.80" y1="225.0" x2="404.80" y2="250.0" stroke="#2db37b" stroke-width="1"/><rect x="403.95" y="226.3" width="1.7" height="22.1" fill="#2db37b"/><line x1="407.70" y1="185.7" x2="407.70" y2="234.0" stroke="#2db37b" stroke-width="1"/><rect x="406.85" y="221.5" width="1.7" height="11.1" fill="#2db37b"/><line x1="410.40" y1="220.0" x2="410.40" y2="244.0" stroke="#e04d5d" stroke-width="1"/><rect x="409.55" y="224.7" width="1.7" height="17.3" fill="#e04d5d"/><line x1="413.10" y1="227.0" x2="413.10" y2="253.0" stroke="#2db37b" stroke-width="1"/><rect x="412.25" y="227.9" width="1.7" height="23.6" fill="#2db37b"/><line x1="415.80" y1="237.0" x2="415.80" y2="247.0" stroke="#e04d5d" stroke-width="1"/><rect x="414.95" y="238.9" width="1.7" height="6.3" fill="#e04d5d"/><line x1="418.40" y1="221.0" x2="418.40" y2="241.0" stroke="#2db37b" stroke-width="1"/><rect x="417.55" y="222.0" width="1.7" height="17.4" fill="#2db37b"/><line x1="421.10" y1="220.0" x2="421.10" y2="233.0" stroke="#2db37b" stroke-width="1"/><rect x="420.25" y="221.8" width="1.7" height="9.4" fill="#2db37b"/><line x1="423.90" y1="216.0" x2="423.90" y2="233.0" stroke="#2db37b" stroke-width="1"/><rect x="423.05" y="217.0" width="1.7" height="14.5" fill="#2db37b"/><line x1="426.70" y1="210.0" x2="426.70" y2="236.0" stroke="#e04d5d" stroke-width="1"/><rect x="425.85" y="211.0" width="1.7" height="23.7" fill="#e04d5d"/><line x1="429.30" y1="194.2" x2="429.30" y2="233.0" stroke="#e04d5d" stroke-width="1"/><rect x="428.45" y="212.3" width="1.7" height="18.9" fill="#e04d5d"/><line x1="431.90" y1="214.0" x2="431.90" y2="258.0" stroke="#e04d5d" stroke-width="1"/><rect x="431.05" y="215.8" width="1.7" height="39.4" fill="#e04d5d"/><line x1="434.60" y1="248.0" x2="434.60" y2="264.0" stroke="#e04d5d" stroke-width="1"/><rect x="433.75" y="249.0" width="1.7" height="13.4" fill="#e04d5d"/><line x1="437.40" y1="198.0" x2="437.40" y2="266.2" stroke="#2db37b" stroke-width="1"/><rect x="436.55" y="200.0" width="1.7" height="60.0" fill="#2db37b"/><line x1="440.10" y1="132.0" x2="440.10" y2="247.0" stroke="#2db37b" stroke-width="1"/><rect x="439.25" y="154.0" width="1.7" height="91.7" fill="#2db37b"/><line x1="442.70" y1="123.4" x2="442.70" y2="185.0" stroke="#e04d5d" stroke-width="1"/><rect x="441.85" y="135.2" width="1.7" height="47.4" fill="#e04d5d"/><line x1="445.50" y1="158.0" x2="445.50" y2="186.0" stroke="#e04d5d" stroke-width="1"/><rect x="444.65" y="159.0" width="1.7" height="25.0" fill="#e04d5d"/><line x1="448.20" y1="170.0" x2="448.20" y2="204.0" stroke="#2db37b" stroke-width="1"/><rect x="447.35" y="171.5" width="1.7" height="31.4" fill="#2db37b"/><line x1="450.90" y1="155.7" x2="450.90" y2="189.0" stroke="#2db37b" stroke-width="1"/><rect x="450.05" y="176.0" width="1.7" height="11.0" fill="#2db37b"/><line x1="453.50" y1="159.0" x2="453.50" y2="178.0" stroke="#2db37b" stroke-width="1"/><rect x="452.65" y="160.5" width="1.7" height="15.5" fill="#2db37b"/><line x1="456.20" y1="140.0" x2="456.20" y2="172.0" stroke="#2db37b" stroke-width="1"/><rect x="455.35" y="149.4" width="1.7" height="20.6" fill="#2db37b"/><line x1="458.90" y1="143.0" x2="458.90" y2="179.0" stroke="#e04d5d" stroke-width="1"/><rect x="458.05" y="146.0" width="1.7" height="31.6" fill="#e04d5d"/><line x1="461.70" y1="153.0" x2="461.70" y2="201.0" stroke="#e04d5d" stroke-width="1"/><rect x="460.85" y="154.0" width="1.7" height="46.0" fill="#e04d5d"/><line x1="464.50" y1="173.0" x2="464.50" y2="211.0" stroke="#e04d5d" stroke-width="1"/><rect x="463.65" y="175.0" width="1.7" height="34.6" fill="#e04d5d"/><line x1="467.20" y1="196.0" x2="467.20" y2="220.0" stroke="#e04d5d" stroke-width="1"/><rect x="466.35" y="197.8" width="1.7" height="21.2" fill="#e04d5d"/><line x1="469.90" y1="208.0" x2="469.90" y2="223.0" stroke="#e04d5d" stroke-width="1"/><rect x="469.05" y="209.6" width="1.7" height="11.8" fill="#e04d5d"/><line x1="472.50" y1="214.0" x2="472.50" y2="225.0" stroke="#e04d5d" stroke-width="1"/><rect x="471.65" y="215.5" width="1.7" height="8.3" fill="#e04d5d"/><line x1="475.20" y1="198.0" x2="475.20" y2="225.0" stroke="#2db37b" stroke-width="1"/><rect x="474.35" y="199.0" width="1.7" height="24.8" fill="#2db37b"/><line x1="477.80" y1="165.0" x2="477.80" y2="228.0" stroke="#e04d5d" stroke-width="1"/><rect x="476.95" y="210.8" width="1.7" height="15.7" fill="#e04d5d"/><line x1="480.60" y1="194.0" x2="480.60" y2="233.0" stroke="#2db37b" stroke-width="1"/><rect x="479.75" y="195.4" width="1.7" height="36.6" fill="#2db37b"/><line x1="483.30" y1="205.0" x2="483.30" y2="257.2" stroke="#e04d5d" stroke-width="1"/><rect x="482.45" y="206.0" width="1.7" height="45.3" fill="#e04d5d"/><line x1="486.10" y1="226.0" x2="486.10" y2="253.7" stroke="#e04d5d" stroke-width="1"/><rect x="485.25" y="227.0" width="1.7" height="20.8" fill="#e04d5d"/><line x1="488.90" y1="236.0" x2="488.90" y2="244.0" stroke="#2db37b" stroke-width="1"/><rect x="488.05" y="237.6" width="1.7" height="4.7" fill="#2db37b"/><line x1="491.50" y1="236.0" x2="491.50" y2="245.0" stroke="#2db37b" stroke-width="1"/><rect x="490.65" y="237.6" width="1.7" height="6.3" fill="#2db37b"/><line x1="494.20" y1="244.0" x2="494.20" y2="285.6" stroke="#e04d5d" stroke-width="1"/><rect x="493.35" y="245.5" width="1.7" height="31.8" fill="#e04d5d"/><line x1="496.90" y1="231.0" x2="496.90" y2="272.0" stroke="#2db37b" stroke-width="1"/><rect x="496.05" y="232.6" width="1.7" height="37.6" fill="#2db37b"/><line x1="499.30" y1="222.0" x2="499.30" y2="282.0" stroke="#2db37b" stroke-width="1"/><rect x="498.45" y="223.4" width="1.7" height="37.4" fill="#2db37b"/><line x1="502.10" y1="218.7" x2="502.10" y2="247.0" stroke="#e04d5d" stroke-width="1"/><rect x="501.25" y="220.2" width="1.7" height="25.3" fill="#e04d5d"/><line x1="504.70" y1="227.0" x2="504.70" y2="242.0" stroke="#2db37b" stroke-width="1"/><rect x="503.85" y="228.0" width="1.7" height="12.7" fill="#2db37b"/><line x1="507.40" y1="223.0" x2="507.40" y2="233.0" stroke="#2db37b" stroke-width="1"/><rect x="506.55" y="224.2" width="1.7" height="7.1" fill="#2db37b"/><line x1="510.00" y1="222.0" x2="510.00" y2="234.0" stroke="#2db37b" stroke-width="1"/><rect x="509.15" y="223.4" width="1.7" height="9.5" fill="#2db37b"/><line x1="512.60" y1="224.0" x2="512.60" y2="248.0" stroke="#e04d5d" stroke-width="1"/><rect x="511.75" y="225.0" width="1.7" height="22.0" fill="#e04d5d"/><line x1="515.30" y1="239.0" x2="515.30" y2="252.0" stroke="#e04d5d" stroke-width="1"/><rect x="514.45" y="240.7" width="1.7" height="9.5" fill="#e04d5d"/><line x1="518.00" y1="239.0" x2="518.00" y2="252.0" stroke="#e04d5d" stroke-width="1"/><rect x="517.15" y="240.0" width="1.7" height="10.0" fill="#e04d5d"/><line x1="520.60" y1="239.0" x2="520.60" y2="252.0" stroke="#e04d5d" stroke-width="1"/><rect x="519.75" y="240.0" width="1.7" height="10.0" fill="#e04d5d"/><line x1="523.20" y1="243.0" x2="523.20" y2="257.0" stroke="#e04d5d" stroke-width="1"/><rect x="522.35" y="244.0" width="1.7" height="12.0" fill="#e04d5d"/><line x1="525.90" y1="244.0" x2="525.90" y2="258.0" stroke="#e04d5d" stroke-width="1"/><rect x="525.05" y="245.5" width="1.7" height="11.0" fill="#e04d5d"/><line x1="528.30" y1="241.0" x2="528.30" y2="256.0" stroke="#2db37b" stroke-width="1"/><rect x="527.45" y="242.0" width="1.7" height="13.0" fill="#2db37b"/><line x1="530.90" y1="238.0" x2="530.90" y2="250.0" stroke="#e04d5d" stroke-width="1"/><rect x="530.05" y="239.2" width="1.7" height="9.4" fill="#e04d5d"/><line x1="533.40" y1="241.0" x2="533.40" y2="253.0" stroke="#e04d5d" stroke-width="1"/><rect x="532.55" y="242.0" width="1.7" height="10.0" fill="#e04d5d"/><line x1="535.90" y1="240.0" x2="535.90" y2="250.0" stroke="#e04d5d" stroke-width="1"/><rect x="535.05" y="240.7" width="1.7" height="7.9" fill="#e04d5d"/><line x1="538.50" y1="241.0" x2="538.50" y2="250.0" stroke="#2db37b" stroke-width="1"/><rect x="537.65" y="242.0" width="1.7" height="6.6" fill="#2db37b"/><line x1="541.10" y1="240.0" x2="541.10" y2="248.0" stroke="#2db37b" stroke-width="1"/><rect x="540.25" y="240.7" width="1.7" height="6.3" fill="#2db37b"/><line x1="543.60" y1="238.0" x2="543.60" y2="245.0" stroke="#2db37b" stroke-width="1"/><rect x="542.75" y="239.0" width="1.7" height="5.0" fill="#2db37b"/><line x1="546.30" y1="234.4" x2="546.30" y2="250.0" stroke="#e04d5d" stroke-width="1"/><rect x="545.45" y="236.0" width="1.7" height="12.7" fill="#e04d5d"/><line x1="548.80" y1="246.0" x2="548.80" y2="264.0" stroke="#e04d5d" stroke-width="1"/><rect x="547.95" y="247.0" width="1.7" height="15.9" fill="#e04d5d"/><line x1="551.30" y1="254.0" x2="551.30" y2="277.0" stroke="#e04d5d" stroke-width="1"/><rect x="550.45" y="255.0" width="1.7" height="20.5" fill="#e04d5d"/><line x1="553.90" y1="260.0" x2="553.90" y2="285.0" stroke="#e04d5d" stroke-width="1"/><rect x="553.05" y="261.3" width="1.7" height="22.1" fill="#e04d5d"/><line x1="556.60" y1="273.0" x2="556.60" y2="283.0" stroke="#2db37b" stroke-width="1"/><rect x="555.75" y="274.0" width="1.7" height="7.8" fill="#2db37b"/><line x1="559.20" y1="271.0" x2="559.20" y2="284.0" stroke="#e04d5d" stroke-width="1"/><rect x="558.35" y="272.0" width="1.7" height="10.0" fill="#e04d5d"/><line x1="561.80" y1="274.0" x2="561.80" y2="300.0" stroke="#e04d5d" stroke-width="1"/><rect x="560.95" y="275.5" width="1.7" height="23.5" fill="#e04d5d"/><line x1="564.70" y1="274.0" x2="564.70" y2="296.0" stroke="#2db37b" stroke-width="1"/><rect x="563.85" y="275.5" width="1.7" height="18.9" fill="#2db37b"/><line x1="567.40" y1="271.0" x2="567.40" y2="287.0" stroke="#2db37b" stroke-width="1"/><rect x="566.55" y="272.3" width="1.7" height="12.7" fill="#2db37b"/><line x1="570.00" y1="263.0" x2="570.00" y2="277.0" stroke="#2db37b" stroke-width="1"/><rect x="569.15" y="264.4" width="1.7" height="11.1" fill="#2db37b"/><line x1="572.60" y1="266.0" x2="572.60" y2="274.0" stroke="#2db37b" stroke-width="1"/><rect x="571.75" y="267.6" width="1.7" height="4.7" fill="#2db37b"/><line x1="575.20" y1="263.0" x2="575.20" y2="274.0" stroke="#2db37b" stroke-width="1"/><rect x="574.35" y="264.4" width="1.7" height="7.9" fill="#2db37b"/><line x1="577.90" y1="255.8" x2="577.90" y2="282.0" stroke="#e04d5d" stroke-width="1"/><rect x="577.05" y="256.5" width="1.7" height="23.7" fill="#e04d5d"/><line x1="580.70" y1="257.0" x2="580.70" y2="268.0" stroke="#2db37b" stroke-width="1"/><rect x="579.85" y="258.0" width="1.7" height="8.0" fill="#2db37b"/><line x1="583.30" y1="262.0" x2="583.30" y2="279.0" stroke="#e04d5d" stroke-width="1"/><rect x="582.45" y="262.9" width="1.7" height="14.1" fill="#e04d5d"/><line x1="585.90" y1="266.0" x2="585.90" y2="287.0" stroke="#e04d5d" stroke-width="1"/><rect x="585.05" y="267.6" width="1.7" height="17.4" fill="#e04d5d"/><line x1="588.40" y1="270.0" x2="588.40" y2="293.0" stroke="#e04d5d" stroke-width="1"/><rect x="587.55" y="270.7" width="1.7" height="20.5" fill="#e04d5d"/><line x1="590.90" y1="276.0" x2="590.90" y2="287.0" stroke="#2db37b" stroke-width="1"/><rect x="590.05" y="277.0" width="1.7" height="8.0" fill="#2db37b"/><line x1="593.40" y1="274.0" x2="593.40" y2="283.0" stroke="#2db37b" stroke-width="1"/><rect x="592.55" y="275.5" width="1.7" height="6.3" fill="#2db37b"/><line x1="596.00" y1="271.0" x2="596.00" y2="282.0" stroke="#2db37b" stroke-width="1"/><rect x="595.15" y="272.3" width="1.7" height="7.9" fill="#2db37b"/><line x1="598.50" y1="271.0" x2="598.50" y2="289.0" stroke="#e04d5d" stroke-width="1"/><rect x="597.65" y="272.3" width="1.7" height="15.7" fill="#e04d5d"/><line x1="601.00" y1="277.0" x2="601.00" y2="296.0" stroke="#e04d5d" stroke-width="1"/><rect x="600.15" y="278.6" width="1.7" height="15.8" fill="#e04d5d"/><line x1="603.50" y1="286.0" x2="603.50" y2="298.0" stroke="#e04d5d" stroke-width="1"/><rect x="602.65" y="287.3" width="1.7" height="9.5" fill="#e04d5d"/><line x1="605.90" y1="292.0" x2="605.90" y2="317.0" stroke="#e04d5d" stroke-width="1"/><rect x="605.05" y="293.6" width="1.7" height="21.6" fill="#e04d5d"/><line x1="608.40" y1="308.0" x2="608.40" y2="319.0" stroke="#e04d5d" stroke-width="1"/><rect x="607.55" y="309.4" width="1.7" height="7.9" fill="#e04d5d"/><line x1="610.80" y1="312.0" x2="610.80" y2="339.0" stroke="#e04d5d" stroke-width="1"/><rect x="609.95" y="313.7" width="1.7" height="23.6" fill="#e04d5d"/><line x1="613.60" y1="328.0" x2="613.60" y2="342.0" stroke="#2db37b" stroke-width="1"/><rect x="612.75" y="329.4" width="1.7" height="11.1" fill="#2db37b"/><line x1="616.20" y1="298.4" x2="616.20" y2="334.0" stroke="#2db37b" stroke-width="1"/><rect x="615.35" y="305.8" width="1.7" height="26.8" fill="#2db37b"/><line x1="618.80" y1="309.0" x2="618.80" y2="323.0" stroke="#e04d5d" stroke-width="1"/><rect x="617.95" y="310.5" width="1.7" height="11.0" fill="#e04d5d"/><line x1="621.40" y1="314.0" x2="621.40" y2="325.0" stroke="#e04d5d" stroke-width="1"/><rect x="620.55" y="315.2" width="1.7" height="7.8" fill="#e04d5d"/><line x1="624.00" y1="315.0" x2="624.00" y2="322.0" stroke="#2db37b" stroke-width="1"/><rect x="623.15" y="316.8" width="1.7" height="3.2" fill="#2db37b"/><line x1="626.70" y1="316.0" x2="626.70" y2="333.0" stroke="#e04d5d" stroke-width="1"/><rect x="625.85" y="316.8" width="1.7" height="14.2" fill="#e04d5d"/><line x1="629.40" y1="301.0" x2="629.40" y2="333.0" stroke="#2db37b" stroke-width="1"/><rect x="628.55" y="302.6" width="1.7" height="28.4" fill="#2db37b"/><line x1="632.00" y1="295.0" x2="632.00" y2="309.0" stroke="#2db37b" stroke-width="1"/><rect x="631.15" y="296.3" width="1.7" height="11.1" fill="#2db37b"/><line x1="634.60" y1="294.0" x2="634.60" y2="303.0" stroke="#e04d5d" stroke-width="1"/><rect x="633.75" y="295.0" width="1.7" height="6.0" fill="#e04d5d"/><line x1="637.20" y1="284.2" x2="637.20" y2="304.0" stroke="#2db37b" stroke-width="1"/><rect x="636.35" y="285.7" width="1.7" height="16.9" fill="#2db37b"/><line x1="639.90" y1="277.9" x2="639.90" y2="304.0" stroke="#e04d5d" stroke-width="1"/><rect x="639.05" y="285.7" width="1.7" height="17.3" fill="#e04d5d"/><line x1="642.50" y1="298.0" x2="642.50" y2="304.0" stroke="#2db37b" stroke-width="1"/><rect x="641.65" y="299.5" width="1.7" height="3.1" fill="#2db37b"/><line x1="645.10" y1="299.0" x2="645.10" y2="308.0" stroke="#e04d5d" stroke-width="1"/><rect x="644.25" y="300.0" width="1.7" height="6.2" fill="#e04d5d"/><line x1="647.80" y1="300.0" x2="647.80" y2="320.0" stroke="#e04d5d" stroke-width="1"/><rect x="646.95" y="301.5" width="1.7" height="16.9" fill="#e04d5d"/><line x1="650.40" y1="314.0" x2="650.40" y2="328.0" stroke="#e04d5d" stroke-width="1"/><rect x="649.55" y="315.2" width="1.7" height="11.1" fill="#e04d5d"/><line x1="653.10" y1="319.0" x2="653.10" y2="328.0" stroke="#2db37b" stroke-width="1"/><rect x="652.25" y="320.0" width="1.7" height="6.3" fill="#2db37b"/><line x1="655.70" y1="319.0" x2="655.70" y2="332.0" stroke="#e04d5d" stroke-width="1"/><rect x="654.85" y="320.0" width="1.7" height="11.0" fill="#e04d5d"/><line x1="658.20" y1="325.0" x2="658.20" y2="336.0" stroke="#e04d5d" stroke-width="1"/><rect x="657.35" y="326.3" width="1.7" height="7.9" fill="#e04d5d"/><line x1="660.60" y1="326.0" x2="660.60" y2="334.0" stroke="#e04d5d" stroke-width="1"/><rect x="659.75" y="327.0" width="1.7" height="5.0" fill="#e04d5d"/><line x1="663.00" y1="328.0" x2="663.00" y2="337.0" stroke="#e04d5d" stroke-width="1"/><rect x="662.15" y="329.4" width="1.7" height="6.3" fill="#e04d5d"/><line x1="665.30" y1="328.0" x2="665.30" y2="348.4" stroke="#e04d5d" stroke-width="1"/><rect x="664.45" y="329.4" width="1.7" height="15.1" fill="#e04d5d"/><line x1="667.60" y1="340.7" x2="667.60" y2="347.5" stroke="#2db37b" stroke-width="1"/><rect x="666.75" y="342.6" width="1.7" height="1.0" fill="#2db37b"/><rect x="0" y="0" width="188" height="136" fill="rgba(31,41,55,0.5)"/><line x1="12" y1="343" x2="912" y2="343" stroke="#748a88" stroke-width="1.4" stroke-dasharray="1.5 2"/><line x1="455.7" y1="184.7" x2="708.7" y2="325" stroke="#ffffff" stroke-width="1.8"/><path d="M669.4,346.8 L694.6,321.6 L711,361.9 L732.8,338 L757.3,384.4 L767.4,348.1 L789.9,383.4 L833.5,249.5" fill="none" stroke="#14306a" stroke-width="4.3" stroke-linejoin="miter" stroke-linecap="round"/><path d="M817.7,257.5 L833.5,249.5 L841.2,264.6" fill="none" stroke="#14306a" stroke-width="4.3" stroke-linejoin="miter" stroke-linecap="round"/><path d="M669.4,346.8 L694.6,321.6 L711,361.9 L732.8,338 L757.3,384.4 L767.4,348.1 L789.9,383.4 L833.5,249.5" fill="none" stroke="#5d9cf3" stroke-width="2.6" stroke-linejoin="miter" stroke-linecap="round"/><path d="M817.7,257.5 L833.5,249.5 L841.2,264.6" fill="none" stroke="#5d9cf3" stroke-width="2.6" stroke-linejoin="miter" stroke-linecap="round"/><circle cx="475.3" cy="167.2" r="7.6" fill="rgba(34,44,58,0.75)" stroke="#5b6673" stroke-width="1.6"/><rect x="474.1" y="163.4" width="2.2" height="8.8" rx="0.8" fill="#dfe9f0"/><line x1="912.5" y1="0" x2="912.5" y2="507" stroke="#364252" stroke-width="1"/><line x1="11.5" y1="475.4" x2="993" y2="475.4" stroke="#364252" stroke-width="1"/><path d="M996.8,0 L996.8,500 Q996.8,506 992,507.5" fill="none" stroke="#34466a" stroke-width="1.8"/><rect x="0" y="479" width="8" height="28" fill="#5b6068"/></svg>
<div class="pl" style="top:24.8px">160.00</div><div class="pl" style="top:67.3px">150.00</div><div class="pl" style="top:109.8px">140.00</div><div class="pl" style="top:152.3px">130.00</div><div class="pl" style="top:194.8px">120.00</div><div class="pl" style="top:237.3px">110.00</div><div class="pl" style="top:279.8px">100.00</div><div class="pl" style="top:322.3px">90.00</div><div class="pl" style="top:364.8px">80.00</div><div class="pl" style="top:407.3px">70.00</div><div class="pl" style="top:449.8px">60.00</div>
<div class="tag" style="top:249px;height:19.6px;width:63px;background:#f89c0e;color:#1b1208">107.04</div><div class="tag" style="top:268.6px;height:19.6px;width:63px;background:#8d1a25;color:#fff;border-radius:0 0 3px 0">102.24</div><div class="tag" style="top:307.4px;height:19.2px;background:#f0344a;color:#fff">93.23</div><div class="tag" style="top:333.5px;height:19.2px;background:#1a8a57;color:#fff">87.15</div><div class="tag" style="top:455.2px;height:20.2px;width:80px;background:#1a8a57;color:#fff">390.383K</div>
<div class="tl" style="left:71px;">Сен</div><div class="tl" style="left:190.4px;">Ноя</div><div class="tl" style="left:307.3px;font-weight:bold;letter-spacing:1px;text-indent:1px;-webkit-text-stroke:0">2025</div><div class="tl" style="left:415.3px;">Мар</div><div class="tl" style="left:553.5px;">Май</div><div class="tl" style="left:709px;">Июл</div><div class="tl" style="left:875.5px;">Сен</div>
<svg width="30" height="26" viewBox="940 478 30 26" style="position:absolute;left:940px;top:478px"><path d="M950.6,484.2 L958.2,484.2 L962.6,491.3 L958.2,498.4 L950.6,498.4 L946.2,491.3 Z" fill="none" stroke="#dfe4ea" stroke-width="1.35" stroke-linejoin="round"/><circle cx="954.4" cy="491.3" r="2.55" fill="none" stroke="#dfe4ea" stroke-width="1.35"/></svg>
<span class="lg" style="left:19px;top:6.2px;color:#cfd6e0;letter-spacing:0.33px">М.Видео</span><span class="lg" style="left:87.8px;top:6.2px;color:#cfd6e0;letter-spacing:0px">ОТКР</span><span class="lg" style="left:128.6px;top:6.2px;color:#35b07f;letter-spacing:0.65px">86.95</span><span class="lg" style="left:177.2px;top:6.2px;color:#cfd6e0;letter-spacing:0px">МАКС</span><span class="lg" style="left:221.5px;top:6.2px;color:#35b07f;letter-spacing:0.55px">87.55</span><span class="lg" style="left:269.3px;top:6.2px;color:#cfd6e0;letter-spacing:0px">МИН</span><span class="lg" style="left:306px;top:6.2px;color:#35b07f;letter-spacing:0.6px">86.00</span><span class="lg" style="left:354.3px;top:6.2px;color:#cfd6e0;letter-spacing:0px">ЗАКР</span><span class="lg" style="left:394.2px;top:6.2px;color:#35b07f;letter-spacing:0.45px">87.15</span><span class="lg" style="left:442.5px;top:6.2px;color:#35b07f;letter-spacing:0.3px">+0.45</span><span class="lg" style="left:488px;top:6.2px;color:#35b07f;letter-spacing:0.3px">(+0.52%)</span><span class="lg" style="left:19.9px;top:34.2px;color:#cfd6e0;letter-spacing:0px">Объём</span><span class="lg" style="left:73.4px;top:34.2px;color:#23956b;letter-spacing:0.6px">390.383K</span><span class="lg" style="left:19.9px;top:61.2px;color:#cfd6e0;letter-spacing:0.28px">MA20 close 0</span><span class="lg" style="left:119.8px;top:61.2px;color:#ee4458;letter-spacing:0.6px">93.23</span><span class="lg" style="left:19.9px;top:88.7px;color:#cfd6e0;letter-spacing:0.2px">MA100 close 0</span><span class="lg" style="left:128.8px;top:88.7px;color:#f5a623;letter-spacing:0.4px">107.04</span><span class="lg" style="left:19.9px;top:116.2px;color:#cfd6e0;letter-spacing:0.3px">MA200 close 0</span><span class="lg" style="left:130.6px;top:116.2px;color:#8f1f2d;letter-spacing:0.5px">102.24</span><div class="btn"><svg width="12" height="7" viewBox="0 0 12 7" style="position:absolute;left:10px;top:8.5px"><path d="M1,6 L6,1.3 L11,6" fill="none" stroke="#e8ecf1" stroke-width="1.8" stroke-linecap="round" stroke-linejoin="round"/></svg></div>
</body></html>
